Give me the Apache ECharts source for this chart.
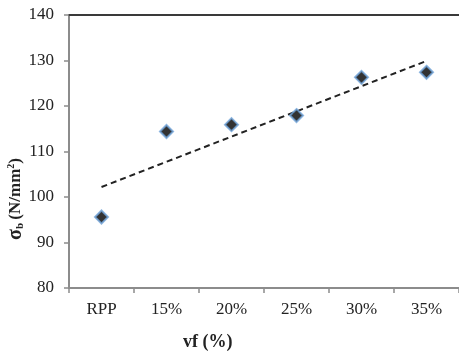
<!DOCTYPE html>
<html>
<head>
<meta charset="utf-8">
<script src="https://cdn.jsdelivr.net/npm/echarts@6/dist/echarts.min.js"></script>
<style>html,body{margin:0;padding:0;background:#fff}#c{width:459px;height:354px}</style>
</head>
<body>
<div id="c"></div>
<script>
var categories = ['RPP', '15%', '20%', '25%', '30%', '35%'];
var sigmaValues = [95.6, 114.4, 115.9, 117.9, 126.3, 127.4];
var trendStart = [0, 102.2];
var trendEnd = [5, 129.9];
var yTicks = {min: 80, max: 140, interval: 10};

var chart = echarts.init(document.getElementById('c'));
var serif = '"Liberation Serif", "Times New Roman", serif';
chart.setOption({
  animation: false,
  backgroundColor: '#fff',
  grid: {left: 69, top: 15, width: 393, height: 273},
  xAxis: [{
    type: 'category',
    data: categories,
    boundaryGap: true,
    axisLine: {lineStyle: {color: '#8c8c8c', width: 2}},
    axisTick: {show: true, length: 5, lineStyle: {color: '#8c8c8c', width: 1.5}},
    axisLabel: {color: '#222', fontFamily: serif, fontSize: 17, margin: 13}
  }, {
    type: 'category',
    data: categories,
    position: 'top',
    axisLine: {show: true, lineStyle: {color: '#3a3a3a', width: 2}},
    axisTick: {show: false},
    axisLabel: {show: false}
  }],
  yAxis: {
    type: 'value',
    min: yTicks.min, max: yTicks.max, interval: yTicks.interval,
    axisLine: {show: true, lineStyle: {color: '#8c8c8c', width: 2}},
    axisTick: {show: true, length: 5, lineStyle: {color: '#8c8c8c', width: 1.5}},
    splitLine: {show: false},
    axisLabel: {color: '#222', fontFamily: serif, fontSize: 17, margin: 15}
  },
  series: [{
    type: 'line',
    data: [trendStart, trendEnd],
    symbol: 'none',
    lineStyle: {color: '#222', width: 2, type: [6, 4]},
    z: 2
  }, {
    type: 'scatter',
    data: sigmaValues,
    symbol: 'diamond',
    symbolSize: 13,
    itemStyle: {color: '#000', borderColor: '#6fa3d8', borderWidth: 2},
    z: 3
  }],
  graphic: [{
    type: 'text',
    left: 183, top: 333,
    style: {text: 'vf (%)', font: 'bold 18px ' + serif, fill: '#222'}
  }, {
    type: 'text',
    x: 16, y: 199,
    rotation: Math.PI / 2,
    style: {
      text: '{s|σ}{b|b} {n|(N/mm}{sup|2}{n|)}',
      align: 'center', verticalAlign: 'middle',
      rich: {
        s: {font: 'bold 20px ' + serif, fill: '#222'},
        b: {font: 'bold 11px ' + serif, fill: '#222', padding: [9, 0, 0, 0]},
        n: {font: 'bold 17px ' + serif, fill: '#222'},
        sup: {font: 'bold 10px ' + serif, fill: '#222', padding: [0, 0, 9, 0]}
      }
    }
  }]
});
</script>
</body>
</html>
